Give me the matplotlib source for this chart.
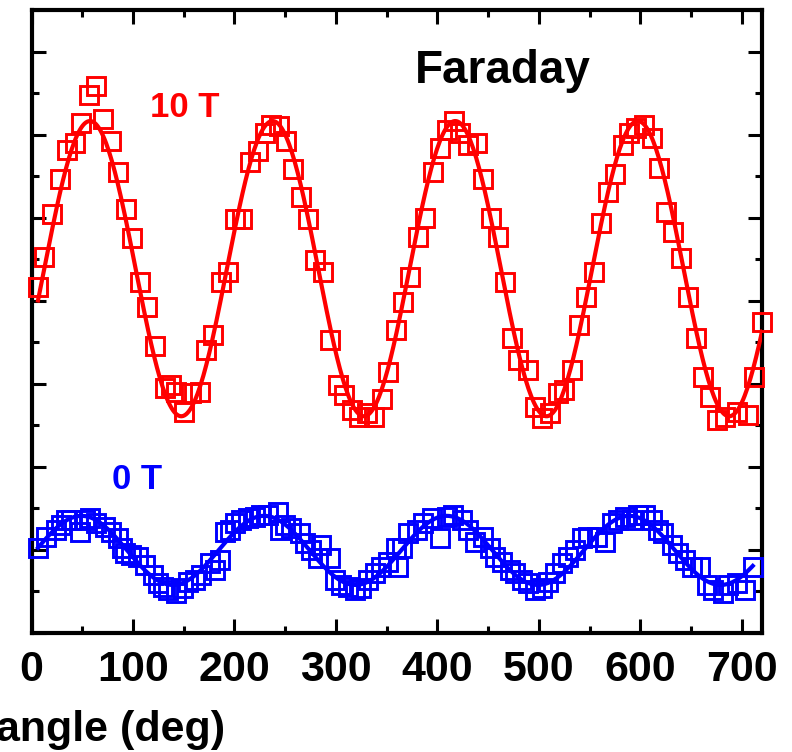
import numpy as np
import matplotlib
matplotlib.use("Agg")
import matplotlib.pyplot as plt
from matplotlib.ticker import MultipleLocator

plt.rcParams['font.family'] = ['Liberation Sans', 'DejaVu Sans']
plt.rcParams['font.weight'] = 'bold'

# 10 T data (angle in deg, signal in arb. units)
red_x = [6.4, 12.3, 20.2, 28.1, 35.0, 42.8, 48.8, 56.7, 63.5, 70.4, 78.3, 85.2, 93.1, 99.0,
         106.9, 113.8, 121.6, 131.5, 137.4, 142.3, 150.2, 157.1, 166.0, 171.9, 178.8, 186.7,
         193.6, 200.4, 207.4, 215.2, 223.1, 230.0, 236.0, 243.8, 250.7, 257.6, 265.5, 272.4,
         279.3, 287.1, 294.0, 301.9, 307.8, 315.7, 322.6, 330.5, 337.4, 345.3, 351.2, 359.1,
         366.0, 372.9, 380.8, 387.7, 395.6, 402.5, 409.4, 416.3, 422.2, 430.1, 439.0, 444.9,
         452.8, 459.7, 466.6, 473.5, 479.5, 489.3, 496.2, 503.1, 511.0, 518.9, 524.8, 532.7,
         539.6, 546.5, 554.4, 561.3, 568.2, 575.1, 583.0, 588.9, 595.8, 603.7, 611.6, 618.5,
         625.4, 632.3, 640.2, 647.1, 655.0, 661.9, 668.8, 675.7, 683.6, 695.4, 706.2, 712.2,
         720.0]
red_y = [4.16, 4.53, 5.04, 5.46, 5.82, 5.90, 6.14, 6.48, 6.58, 6.19, 5.92, 5.55, 5.10, 4.76,
         4.22, 3.92, 3.45, 2.95, 2.99, 2.90, 2.66, 2.89, 2.90, 3.41, 3.59, 4.22,
         4.34, 4.98, 4.98, 5.67, 5.80, 6.02, 6.12, 6.10, 5.92, 5.58, 5.25, 4.98,
         4.49, 4.34, 3.53, 2.99, 2.87, 2.69, 2.60, 2.65, 2.60, 2.82, 3.14, 3.65,
         3.99, 4.29, 4.77, 5.00, 5.55, 5.84, 6.06, 6.16, 6.02, 5.88, 5.90, 5.46,
         5.00, 4.77, 4.22, 3.55, 3.29, 3.17, 2.72, 2.59, 2.65, 2.89, 2.93, 3.17,
         3.71, 4.05, 4.35, 4.94, 5.31, 5.52, 5.88, 6.02, 6.08, 6.12, 5.96, 5.60,
         5.07, 4.83, 4.52, 4.05, 3.55, 3.08, 2.84, 2.57, 2.60, 2.66, 2.63, 3.08,
         3.75]

# 0 T data
blue_x = [6.4, 14.3, 24.1, 29.1, 34.0, 38.9, 47.8, 52.7, 57.6, 63.5, 72.4, 78.3, 85.2, 89.1,
          92.1, 98.0, 104.9, 111.8, 119.7, 124.6, 129.5, 134.5, 142.3, 149.2, 154.2, 161.0,
          167.0, 175.8, 180.7, 185.7, 190.6, 195.5, 200.4, 206.4, 213.3, 220.1, 226.1, 233.0,
          242.8, 244.8, 249.7, 255.6, 264.5, 269.4, 275.3, 282.2, 285.2, 294.0, 298.9, 304.8,
          311.8, 318.6, 324.6, 331.5, 338.4, 344.3, 351.2, 359.1, 361.1, 365.0, 370.9, 379.8,
          385.7, 394.5, 402.4, 409.3, 415.2, 424.1, 430.0, 436.9, 444.8, 451.7, 456.6, 463.5,
          471.4, 476.3, 483.2, 489.1, 496.0, 502.9, 508.8, 515.7, 522.6, 528.5, 535.5, 542.4,
          548.3, 557.1, 565.0, 571.9, 577.8, 584.7, 591.6, 597.5, 604.4, 611.3, 617.2, 622.2,
          631.0, 636.9, 643.8, 650.7, 658.6, 665.5, 671.5, 681.3, 686.2, 695.1, 703.0, 710.9]
blue_y = [1.02, 1.16, 1.24, 1.30, 1.36, 1.36, 1.22, 1.36, 1.39, 1.33, 1.28, 1.22, 1.14, 1.02,
          0.96, 0.94, 0.92, 0.82, 0.70, 0.60, 0.55, 0.52, 0.48, 0.54, 0.61, 0.64,
          0.70, 0.84, 0.76, 0.88, 1.22, 1.24, 1.33, 1.36, 1.39, 1.40, 1.42, 1.42,
          1.46, 1.24, 1.30, 1.27, 1.20, 1.08, 1.00, 0.90, 1.06, 0.90, 0.64, 0.58,
          0.55, 0.52, 0.54, 0.64, 0.72, 0.80, 0.86, 1.02, 0.80, 1.02, 1.20, 1.24,
          1.33, 1.39, 1.14, 1.40, 1.42, 1.36, 1.24, 1.10, 1.16, 1.02, 0.92, 0.86,
          0.76, 0.72, 0.64, 0.60, 0.52, 0.54, 0.61, 0.72, 0.84, 0.92, 1.00, 1.14,
          1.16, 1.16, 1.10, 1.33, 1.36, 1.40, 1.36, 1.42, 1.42, 1.36, 1.24, 1.20,
          1.06, 0.96, 0.88, 0.80, 0.80, 0.58, 0.52, 0.48, 0.58, 0.60, 0.52, 0.80]


def cos2_fit(x, y):
    # least squares fit y = a + b cos(2x) + c sin(2x)
    t = np.radians(np.asarray(x))
    A = np.column_stack([np.ones_like(t), np.cos(2 * t), np.sin(2 * t)])
    coef = np.linalg.lstsq(A, np.asarray(y), rcond=None)[0]
    xf = np.linspace(min(x), max(x), 500)
    tf = np.radians(xf)
    return xf, coef[0] + coef[1] * np.cos(2 * tf) + coef[2] * np.sin(2 * tf)


fig = plt.figure(figsize=(7.92, 7.52), dpi=100)
ax = fig.add_axes([31.5 / 792, 119 / 752, 730.5 / 792, 623 / 752])

for x, y, c in [(red_x, red_y, '#ff0000'), (blue_x, blue_y, '#0000ff')]:
    ax.plot(x, y, 's', mfc='none', mec=c, ms=12.5, mew=2.1, clip_on=False, zorder=3)
    xf, yf = cos2_fit(x, y)
    ax.plot(xf, yf, '-', color=c, lw=3.0, zorder=4)

ax.set_xlim(0, 720)
ax.set_ylim(0, 7.5)
ax.xaxis.set_major_locator(MultipleLocator(100))
ax.xaxis.set_minor_locator(MultipleLocator(50))
ax.yaxis.set_major_locator(MultipleLocator(1))
ax.yaxis.set_minor_locator(MultipleLocator(0.5))
ax.tick_params(which='both', direction='in', top=True, right=True, width=2.2)
ax.tick_params(which='major', length=10)
ax.tick_params(which='minor', length=5)
ax.tick_params(axis='x', labelsize=31, pad=12)
ax.tick_params(axis='y', labelleft=False)
for lab in ax.get_xticklabels():
    lab.set_fontweight('bold')
for s in ax.spines.values():
    s.set_linewidth(3.0)

ax.text(465, 6.76, 'Faraday', fontsize=33, fontweight='bold', color='black',
        ha='center', va='center')
ax.text(151, 6.33, '10 T', fontsize=25, fontweight='bold', color='#ff0000',
        ha='center', va='center')
ax.text(104, 1.85, '0 T', fontsize=25, fontweight='bold', color='#0000ff',
        ha='center', va='center')

fig.text(225 / 792, 1 - 741 / 752, 'angle (deg)', fontsize=31, fontweight='bold',
         ha='right', va='baseline')

fig.savefig('out.png', dpi=100)
